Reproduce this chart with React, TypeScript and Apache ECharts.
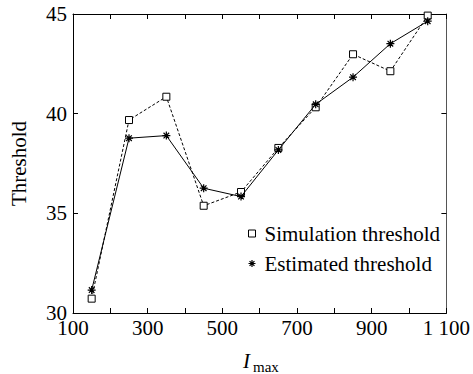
import React, { useEffect, useRef } from "react";
import * as echarts from "echarts";

const xValues = [150, 250, 350, 450, 550, 650, 750, 850, 950, 1050];
const simulation = [30.72, 39.68, 40.85, 35.38, 36.07, 38.28, 40.32, 42.98, 42.13, 44.92];
const estimated = [31.15, 38.77, 38.9, 36.26, 35.84, 38.18, 40.47, 41.83, 43.51, 44.64];
const yTicks = [30, 35, 40, 45];

const FONT = "Liberation Serif";
const STAR = "path://M5 0 L5 10 M0 5 L10 5 M1.5 1.5 L8.5 8.5 M1.5 8.5 L8.5 1.5";

export default function App() {
  const ref = useRef<HTMLDivElement>(null);
  useEffect(() => {
    document.body.style.margin = "0";
    if (!ref.current) return;
    const chart = echarts.init(ref.current, undefined, { renderer: "svg" });
    const axisLine = { show: true, lineStyle: { color: "#000", width: 1 } };
    const tick = { show: true, inside: true, length: 5, lineStyle: { color: "#000", width: 1 } };
    const serif = { fontFamily: FONT, fontSize: 21, color: "#000" };
    const xLabel = (v: number) => {
      if ((v / 100) % 2 !== 1) return "";
      const s = v >= 1000 ? `${Math.floor(v / 1000)} ${String(v % 1000).padStart(3, "0")}` : String(v);
      return `{s|${s}}`;
    };
    chart.setOption({
      animation: false,
      backgroundColor: "#fff",
      textStyle: { fontFamily: FONT },
      grid: { left: 71, right: 25, top: 14, bottom: 61, containLabel: false },
      legend: {
        orient: "vertical",
        left: 241,
        top: 218,
        itemWidth: 7,
        itemHeight: 7,
        itemGap: 9,
        formatter: (n: string) => `{s|${n}}`,
        textStyle: { ...serif, rich: { s: { ...serif, padding: [0, 0, 0, 4] } } },
        data: [
          { name: "Simulation threshold", icon: "rect", itemStyle: { color: "#fff", borderColor: "#000", borderWidth: 1 } },
          { name: "Estimated threshold", icon: STAR, itemStyle: { color: "none", borderColor: "#000", borderWidth: 1.2 } },
        ],
      },
      xAxis: [
        {
          type: "value",
          min: 100,
          max: 1100,
          interval: 100,
          axisLine,
          axisTick: tick,
          splitLine: { show: false },
          axisLabel: { formatter: xLabel, ...serif, margin: 4, rich: { s: serif } },
        },
        {
          type: "value",
          position: "top",
          min: 100,
          max: 1100,
          interval: 100,
          axisLine,
          axisTick: tick,
          splitLine: { show: false },
          axisLabel: { show: false },
        },
      ],
      yAxis: [
        {
          type: "value",
          min: yTicks[0],
          max: yTicks[yTicks.length - 1],
          interval: 5,
          name: "Threshold",
          nameLocation: "middle",
          nameGap: 44,
          nameTextStyle: serif,
          axisLine,
          axisTick: tick,
          splitLine: { show: false },
          axisLabel: { formatter: (v: number) => `{s|${v}}`, ...serif, margin: 6, rich: { s: serif } },
        },
        {
          type: "value",
          position: "right",
          min: yTicks[0],
          max: yTicks[yTicks.length - 1],
          interval: 5,
          axisLine: { show: true, lineStyle: { color: "#555", width: 1 } },
          axisTick: tick,
          splitLine: { show: false },
          axisLabel: { show: false },
        },
      ],
      graphic: [
        {
          type: "text",
          left: 243,
          top: 350,
          style: { text: "I", fontFamily: FONT, fontSize: 21, fontStyle: "italic", fill: "#000" },
        },
        {
          type: "text",
          left: 253,
          top: 359,
          style: { text: "max", fontFamily: FONT, fontSize: 15, fill: "#000" },
        },
      ],
      series: [
        {
          name: "Simulation threshold",
          type: "line",
          data: xValues.map((x, i) => [x, simulation[i]]),
          symbol: "rect",
          symbolSize: 7,
          itemStyle: { color: "#fff", borderColor: "#000", borderWidth: 1 },
          lineStyle: { color: "#000", width: 1, type: [3, 2] },
          z: 2,
        },
        {
          name: "Estimated threshold",
          type: "line",
          data: xValues.map((x, i) => [x, estimated[i]]),
          symbol: STAR,
          symbolSize: 8,
          itemStyle: { color: "none", borderColor: "#000", borderWidth: 1.2 },
          lineStyle: { color: "#000", width: 1 },
          z: 3,
        },
      ],
    });
    return () => chart.dispose();
  }, []);
  return <div ref={ref} style={{ width: 473, height: 374 }} />;
}
